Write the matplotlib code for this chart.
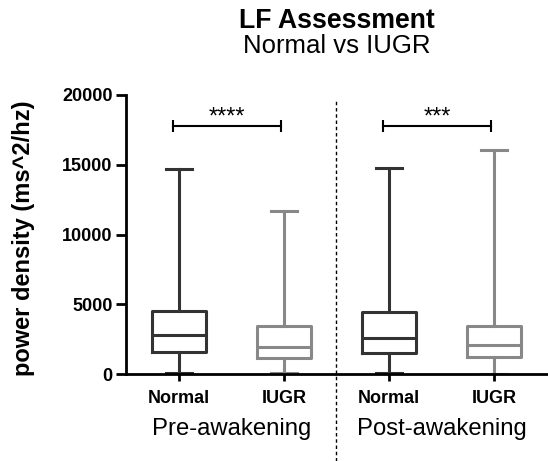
import matplotlib
matplotlib.use('Agg')
import matplotlib.pyplot as plt
import matplotlib.transforms as mtransforms

plt.rcParams['font.family'] = ['Liberation Sans', 'DejaVu Sans']

# box stats (ms^2/hz)
groups = ['Pre-awakening', 'Post-awakening']
labels = ['Normal', 'IUGR', 'Normal', 'IUGR']
mins = [90, 80, 110, 40]
q1s = [1570, 1170, 1500, 1240]
medians = [2780, 1950, 2570, 2090]
q3s = [4560, 3430, 4440, 3470]
maxs = [14670, 11680, 14780, 16060]
colors = ['#333333', '#888888', '#333333', '#888888']
signif = ['****', '***']
bracket_y = 17750

positions = [1, 2, 3, 4]

fig = plt.figure(figsize=(5.48, 4.61), dpi=100)
ax = fig.add_axes([0.2308, 0.188, 0.7665, 0.6066])

stats = []
for lab, lo, a, m, b, hi in zip(labels, mins, q1s, medians, q3s, maxs):
    stats.append(dict(label=lab, whislo=lo, q1=a, med=m, q3=b, whishi=hi, fliers=[]))

for st, pos, c in zip(stats, positions, colors):
    lw = 2.2
    ax.bxp([st], positions=[pos], widths=0.51, capwidths=0.245,
           showfliers=False, manage_ticks=False,
           boxprops=dict(color=c, linewidth=lw),
           medianprops=dict(color=c, linewidth=lw),
           whiskerprops=dict(color=c, linewidth=lw),
           capprops=dict(color=c, linewidth=lw))

ax.set_xlim(0.5, 4.5)
ax.set_ylim(0, 20000)
ax.set_yticks([0, 5000, 10000, 15000, 20000])
ax.set_xticks(positions)
ax.set_xticklabels(labels, fontsize=13, fontweight='bold')
for t in ax.get_yticklabels():
    t.set_fontsize(13)
    t.set_fontweight('bold')

for s in ['top', 'right']:
    ax.spines[s].set_visible(False)
for s in ['left', 'bottom']:
    ax.spines[s].set_linewidth(2.0)
ax.tick_params(axis='y', length=7, width=2.0, pad=3)
ax.tick_params(axis='x', length=5, width=2.0, pad=6)

ax.set_ylabel('power density (ms^2/hz)', fontsize=17, fontweight='bold')
ax.yaxis.set_label_coords(-0.218, 0.487)

# separator between groups
trans = mtransforms.blended_transform_factory(ax.transData, ax.transAxes)
ax.plot([2.5, 2.5], [-0.31, 0.98], transform=trans, color='black',
        linestyle=(0, (2.5, 2)), linewidth=1.0, clip_on=False)

# group labels
for i, g in enumerate(groups):
    xc = (positions[2 * i] + positions[2 * i + 1]) / 2
    ax.text(xc, -0.217, g, transform=trans, ha='center', va='baseline',
            fontsize=17.2)

# significance brackets
for i, s in enumerate(signif):
    x0 = positions[2 * i] - 0.057
    x1 = positions[2 * i + 1] - 0.029
    ax.plot([x0, x1], [bracket_y, bracket_y], color='black', linewidth=1.5,
            marker='|', markersize=9, markeredgewidth=1.5)
    ax.text((x0 + x1) / 2, bracket_y - 150, s, ha='center', va='bottom',
            fontsize=17)

xc = 0.2308 + 0.7665 / 2
fig.text(xc, 1 - 27.7 / 461, 'LF Assessment', ha='center', va='baseline',
         fontsize=19.2, fontweight='bold')
fig.text(xc, 1 - 53.3 / 461, 'Normal vs IUGR', ha='center', va='baseline',
         fontsize=18.5)

fig.savefig('out.png', dpi=100)
